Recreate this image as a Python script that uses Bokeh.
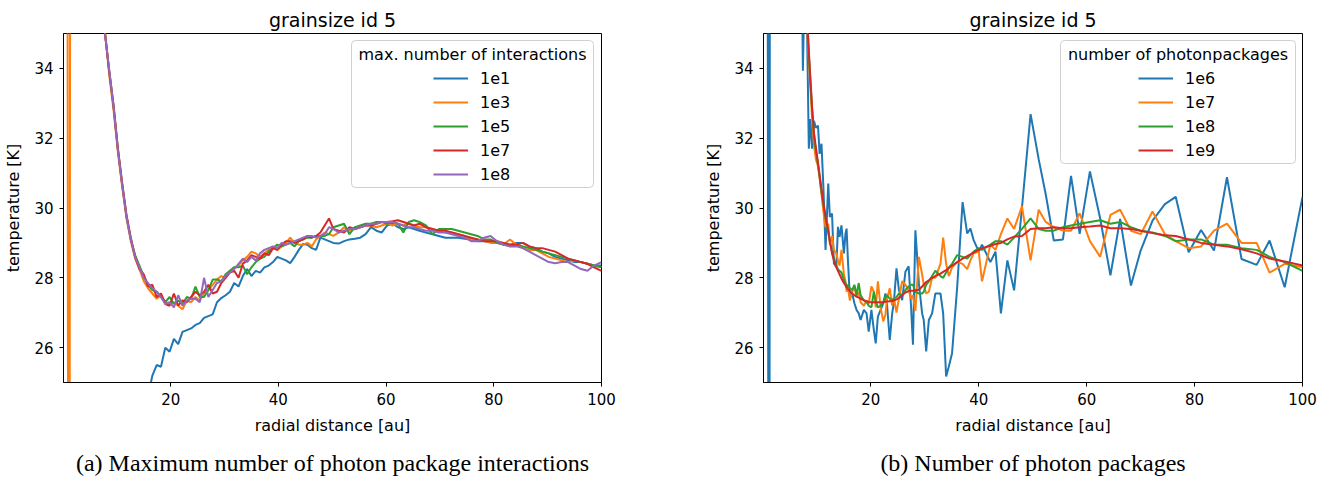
from bokeh.plotting import figure
from bokeh.layouts import row
from bokeh.models import (Legend, LegendItem, BoxAnnotation, Label, Title,
                          FixedTicker, Range1d)
from bokeh.embed import file_html
from bokeh.resources import INLINE

# ---------------- data: panel (a) ----------------
x_left = [
    0.7, 1.1, 1.6, 3.0, 5.0, 7.0, 7.8, 8.6,
    9.4, 10.2, 11.0, 11.8, 12.6, 13.4, 14.2, 15.0,
    15.8, 16.6, 17.4, 18.2, 19.0, 19.8, 20.6, 21.4,
    22.2, 23.0, 23.8, 24.6, 25.4, 26.2, 27.0, 27.8,
    28.6, 29.4, 30.2, 31.0, 31.8, 32.6, 33.4, 34.2,
    35.0, 35.8, 36.6, 37.4, 38.2, 39.0, 39.8, 40.6,
    41.4, 42.2, 43.0, 43.8, 44.6, 45.4, 46.2, 47.0,
    47.8, 48.6, 49.4, 50.2, 51.2, 52.2, 53.2, 54.2,
    55.2, 56.2, 57.2, 58.2, 59.2, 60.2, 61.2, 62.2,
    63.2, 64.2, 65.2, 66.2, 67.4, 68.6, 69.8, 71.0,
    72.2, 73.4, 74.6, 75.8, 77.0, 78.2, 79.4, 80.6,
    81.8, 83.0, 84.2, 85.4, 86.6, 87.8, 89.0, 90.2,
    91.4, 92.6, 93.8, 95.0, 96.2, 97.4, 98.6, 100.0]

T_int_1e1 = [
    5.0, 8.0, 10.0, 13.0, 16.0, 18.5, 19.5, 20.3,
    21.0, 21.6, 22.2, 22.7, 23.1, 23.5, 23.9, 24.3,
    24.6, 25.2, 25.5, 25.45, 26.0, 25.88, 26.25, 26.1,
    26.45, 26.5, 26.55, 26.65, 26.7, 26.85, 26.9, 26.95,
    27.3, 27.42, 27.5, 27.6, 27.85, 27.75, 28.05, 28.25,
    28.05, 28.2, 28.15, 28.3, 28.35, 28.45, 28.6, 28.55,
    28.5, 28.42, 28.6, 28.8, 28.97, 28.95, 28.85, 28.8,
    29.15, 29.1, 29.05, 29.0, 28.98, 29.05, 29.1, 29.12,
    29.15, 29.25, 29.45, 29.35, 29.3, 29.5, 29.55, 29.45,
    29.4, 29.45, 29.4, 29.35, 29.3, 29.25, 29.2, 29.15,
    29.15, 29.15, 29.12, 29.1, 29.05, 29.05, 29.05, 29.0,
    28.95, 28.95, 29.0, 29.0, 28.9, 28.85, 28.75, 28.7,
    28.6, 28.55, 28.5, 28.45, 28.45, 28.4, 28.35, 28.35]

T_int_1e3 = [
    60.0, 0.0, 80.0, 48.0, 42.0, 37.5, 35.1, 33.8,
    32.8, 31.6, 30.6, 29.7, 29.05, 28.55, 28.25, 27.9,
    27.7, 27.55, 27.4, 27.5, 27.3, 27.25, 27.3, 27.2,
    27.1, 27.35, 27.3, 27.45, 27.35, 27.55, 27.65, 27.8,
    27.95, 28.05, 28.0, 28.2, 28.3, 28.35, 28.5, 28.6,
    28.75, 28.7, 28.6, 28.7, 28.8, 28.85, 28.8, 28.9,
    29.0, 29.15, 29.0, 28.95, 28.95, 29.0, 28.9, 29.1,
    29.2, 29.3, 29.25, 29.2, 29.3, 29.45, 29.35, 29.4,
    29.45, 29.5, 29.5, 29.45, 29.5, 29.55, 29.5, 29.55,
    29.5, 29.55, 29.5, 29.45, 29.45, 29.4, 29.35, 29.3,
    29.3, 29.25, 29.2, 29.1, 29.1, 29.05, 29.0, 29.0,
    28.95, 29.1, 28.95, 28.85, 28.8, 28.8, 28.7, 28.6,
    28.55, 28.5, 28.45, 28.5, 28.45, 28.4, 28.35, 28.3]

T_int_1e5 = [
    60.0, 58.0, 55.0, 48.0, 42.0, 37.5, 35.0, 33.9,
    32.9, 31.7, 30.7, 29.75, 29.1, 28.65, 28.35, 28.05,
    27.8, 27.65, 27.6, 27.45, 27.3, 27.45, 27.25, 27.35,
    27.25, 27.45, 27.4, 27.75, 27.45, 27.45, 27.65, 27.95,
    27.95, 27.9, 28.1, 28.2, 28.3, 28.3, 28.35, 28.1,
    28.3, 28.45, 28.55, 28.6, 28.75, 28.85, 28.95, 28.9,
    28.95, 29.0, 28.9, 29.05, 29.1, 29.15, 29.15, 29.2,
    29.2, 29.2, 29.25, 29.45, 29.5, 29.55, 29.25, 29.45,
    29.5, 29.55, 29.55, 29.6, 29.6, 29.55, 29.6, 29.55,
    29.3, 29.6, 29.65, 29.6, 29.5, 29.25, 29.4, 29.4,
    29.4, 29.35, 29.3, 29.25, 29.2, 29.1, 29.1, 29.0,
    28.95, 28.9, 28.95, 28.9, 28.85, 28.8, 28.75, 28.7,
    28.65, 28.6, 28.55, 28.5, 28.45, 28.4, 28.35, 28.3]

T_int_1e7 = [
    60.0, 58.0, 55.0, 48.0, 42.0, 37.5, 35.0, 33.9,
    32.95, 31.7, 30.7, 29.8, 29.15, 28.6, 28.25, 28.1,
    27.75, 27.8, 27.45, 27.55, 27.25, 27.2, 27.55, 27.2,
    27.35, 27.3, 27.45, 27.6, 27.5, 27.6, 27.8, 27.55,
    27.6, 27.85, 28.0, 28.15, 28.2, 28.0, 28.4, 28.5,
    28.65, 28.6, 28.55, 28.7, 28.65, 28.85, 28.8, 28.95,
    29.05, 29.05, 29.0, 29.05, 29.1, 29.2, 29.15, 29.2,
    29.3, 29.5, 29.7, 29.4, 29.35, 29.3, 29.45, 29.4,
    29.45, 29.5, 29.5, 29.55, 29.6, 29.6, 29.62, 29.65,
    29.6, 29.55, 29.5, 29.55, 29.45, 29.4, 29.35, 29.35,
    29.3, 29.25, 29.2, 29.15, 29.1, 29.05, 29.05, 29.05,
    29.0, 28.95, 28.95, 29.0, 28.9, 28.85, 28.85, 28.8,
    28.75, 28.65, 28.55, 28.5, 28.45, 28.4, 28.3, 28.2]

T_int_1e8 = [
    60.0, 58.0, 55.0, 48.0, 42.0, 37.5, 35.0, 33.95,
    32.9, 31.65, 30.65, 29.75, 29.1, 28.6, 28.3, 28.0,
    27.85, 27.7, 27.6, 27.45, 27.25, 27.3, 27.15, 27.5,
    27.2, 27.35, 27.4, 27.4, 27.3, 28.0, 27.45, 27.65,
    27.85, 27.9, 28.05, 28.15, 28.25, 28.4, 28.55, 28.45,
    28.6, 28.5, 28.7, 28.8, 28.85, 28.9, 28.85, 29.0,
    28.95, 29.0, 29.05, 29.1, 29.15, 29.2, 29.2, 29.15,
    29.2, 29.25, 29.45, 29.4, 29.3, 29.35, 29.4, 29.4,
    29.45, 29.5, 29.55, 29.55, 29.6, 29.6, 29.6, 29.55,
    29.5, 29.45, 29.45, 29.4, 29.35, 29.35, 29.3, 29.3,
    29.25, 29.2, 29.15, 29.05, 29.05, 29.15, 29.2, 29.05,
    28.95, 28.9, 28.9, 28.85, 28.75, 28.65, 28.55, 28.45,
    28.42, 28.45, 28.45, 28.35, 28.25, 28.2, 28.35, 28.45]

labels_left = ["1e1", "1e3", "1e5", "1e7", "1e8"]

# ---------------- data: panel (b) ----------------
x_right = [
    0.6, 1.15, 1.4, 3.0, 5.0, 7.0, 7.4, 7.9,
    8.5, 8.8, 9.1, 9.45, 9.8, 10.2, 10.5, 10.85,
    11.2, 11.6, 12.1, 12.4, 12.8, 13.15, 13.6, 13.9,
    14.2, 14.55, 15.0, 15.3, 15.5, 15.75, 16.1, 16.55,
    16.95, 17.35, 17.75, 18.1, 18.7, 19.2, 19.6, 20.1,
    20.55, 20.9, 21.3, 21.8, 22.3, 22.7, 23.0, 23.5,
    23.95, 24.25, 24.75, 25.2, 25.8, 26.4, 27.0, 27.45,
    27.8, 28.25, 28.9, 29.5, 29.8, 30.25, 30.75, 31.35,
    31.95, 32.9, 33.4, 33.95, 34.45, 35.05, 36.0, 37.0,
    37.85, 38.45, 39.05, 40.0, 40.6, 42.15, 43.1, 44.1,
    45.3, 46.55, 48.0, 49.6, 51.1, 52.4, 53.9, 55.6,
    57.1, 58.7, 60.6, 62.5, 64.4, 66.2, 68.2, 70.0,
    72.2, 74.5, 76.5, 78.9, 81.2, 83.6, 86.0, 88.7,
    91.5, 93.9, 96.7, 100.0]

T_pkg_1e6 = [
    70.0, 5.0, 70.0, 60.0, 50.0, 40.0, 33.93, 38.0,
    31.7, 32.55, 31.7, 32.5, 32.3, 32.36, 31.55, 31.84,
    30.6, 28.8, 30.7, 29.74, 29.84, 28.41, 28.31, 29.46,
    29.17, 29.5, 28.7, 29.27, 29.41, 28.5, 27.46, 27.55,
    27.27, 27.08, 26.98, 26.79, 27.08, 26.98, 26.46, 27.08,
    26.51, 26.12, 26.89, 27.08, 27.27, 27.55, 27.22, 26.22,
    26.98, 27.27, 28.27, 27.65, 27.36, 28.17, 28.33, 27.17,
    26.08, 29.36, 27.84, 26.98, 26.79, 25.89, 26.79, 26.98,
    27.55, 27.55, 26.98, 25.17, 25.46, 25.84, 27.74, 30.17,
    29.27, 29.41, 29.08, 28.75, 28.95, 28.45, 28.75, 26.98,
    28.5, 27.64, 30.0, 32.69, 31.4, 30.4, 29.07, 29.1,
    30.92, 29.26, 31.05, 29.7, 28.07, 29.69, 27.78, 28.78,
    29.64, 30.11, 30.32, 28.73, 29.37, 28.78, 30.88, 28.54,
    28.37, 29.07, 27.73, 30.32]

T_pkg_1e7 = [
    60.0, 58.0, 55.0, 50.0, 45.0, 40.0, 38.0, 35.8,
    34.3, 33.4, 32.6, 31.8, 31.4, 31.2, 30.85, 30.4,
    29.9, 29.45, 29.55, 28.95, 29.2, 28.8, 28.7, 28.5,
    28.35, 28.8, 28.1, 27.9, 27.6, 27.75, 27.35, 27.6,
    27.75, 27.45, 27.6, 27.3, 27.2, 27.35, 27.25, 27.75,
    27.6, 27.15, 27.9, 27.15, 26.75, 26.95, 27.4, 27.7,
    27.2, 27.45, 27.0, 27.4, 27.9, 27.8, 27.65, 27.4,
    27.5, 27.05, 28.6, 28.1, 27.8, 27.55, 27.6, 28.0,
    28.0, 28.4, 29.15, 28.4, 28.05, 28.3, 28.45, 28.4,
    28.25, 28.5, 28.7, 28.75, 27.9, 28.95, 28.8, 29.25,
    29.7, 29.4, 30.05, 28.5, 29.95, 29.6, 29.45, 29.35,
    29.35, 29.85, 29.05, 28.6, 29.8, 29.95, 29.35, 29.25,
    29.9, 29.25, 29.05, 28.85, 28.9, 29.35, 29.55, 29.0,
    29.0, 28.15, 28.4, 28.3]

T_pkg_1e8 = [
    60.0, 58.0, 55.0, 50.0, 45.0, 40.0, 38.4, 36.3,
    34.4, 33.6, 32.85, 32.1, 31.65, 31.25, 30.9, 30.45,
    30.1, 29.7, 29.3, 29.05, 28.75, 28.55, 28.35, 28.25,
    28.2, 28.15, 27.95, 27.85, 27.75, 27.8, 27.7, 27.65,
    27.8, 27.5, 27.85, 27.5, 27.35, 27.3, 27.2, 27.15,
    27.6, 27.35, 27.15, 27.2, 27.3, 27.45, 27.5, 27.4,
    27.35, 27.4, 27.45, 27.55, 27.5, 27.65, 27.75, 27.8,
    27.8, 27.6, 27.55, 27.55, 27.6, 27.8, 27.9, 28.05,
    28.2, 28.05, 28.0, 28.15, 28.3, 28.4, 28.65, 28.6,
    28.55, 28.65, 28.75, 28.85, 28.8, 28.95, 29.05, 29.05,
    28.95, 29.15, 29.4, 29.7, 29.4, 29.35, 29.35, 29.45,
    29.5, 29.55, 29.6, 29.65, 29.55, 29.6, 29.45, 29.35,
    29.3, 29.2, 29.05, 29.1, 29.1, 28.95, 28.95, 28.85,
    28.8, 28.6, 28.45, 28.2]

T_pkg_1e9 = [
    60.0, 58.0, 55.0, 50.0, 45.0, 40.0, 38.5, 36.5,
    34.5, 33.7, 32.9, 32.15, 31.75, 31.3, 30.95, 30.55,
    30.15, 29.75, 29.35, 29.05, 28.7, 28.5, 28.3, 28.2,
    28.1, 27.98, 27.85, 27.78, 27.73, 27.68, 27.62, 27.55,
    27.5, 27.46, 27.43, 27.4, 27.36, 27.33, 27.31, 27.3,
    27.3, 27.3, 27.3, 27.3, 27.3, 27.32, 27.32, 27.33,
    27.33, 27.35, 27.38, 27.42, 27.5, 27.58, 27.62, 27.63,
    27.63, 27.64, 27.66, 27.75, 27.8, 27.88, 27.93, 28.0,
    28.05, 28.12, 28.17, 28.22, 28.28, 28.35, 28.45, 28.55,
    28.62, 28.67, 28.72, 28.8, 28.85, 28.92, 28.97, 29.0,
    29.1, 29.18, 29.2, 29.4, 29.42, 29.42, 29.45, 29.42,
    29.42, 29.45, 29.47, 29.5, 29.42, 29.42, 29.4, 29.35,
    29.28, 29.22, 29.2, 29.1, 29.0, 28.95, 28.9, 28.82,
    28.7, 28.55, 28.47, 28.35]

labels_right = ["1e6", "1e7", "1e8", "1e9"]

x_ticks = [20, 40, 60, 80, 100]
y_ticks = [26, 28, 30, 32, 34]
colors = ["#1f77b4", "#ff7f0e", "#2ca02c", "#d62728", "#9467bd"]

FONT = "DejaVu Sans"
X0, X1 = 0.1, 100.0
Y0, Y1 = 25.0, 35.0
FRAME_TOP, FRAME_H = 33, 349


def make_panel(width, border_left, border_right, frame_left, frame_w,
               xs, series, labels, legend_title, box_px, legend_loc, caption):
    p = figure(width=width, height=488, output_backend="svg", toolbar_location=None,
               x_range=Range1d(X0, X1), y_range=Range1d(Y0, Y1),
               min_border_left=border_left, min_border_right=border_right,
               min_border_top=FRAME_TOP, min_border_bottom=488 - FRAME_TOP - FRAME_H)
    p.title.text = "grainsize id 5"
    p.title.align = "center"
    p.title.text_font = FONT
    p.title.text_font_size = "19px"
    p.title.text_font_style = "normal"
    p.title.text_color = "black"
    p.title.standoff = 5

    p.xgrid.visible = False
    p.ygrid.visible = False
    p.outline_line_color = "black"
    p.outline_line_alpha = 1.0
    p.outline_line_width = 1
    p.background_fill_color = "white"
    p.border_fill_color = "white"

    for ax, ticks in ((p.xaxis[0], x_ticks), (p.yaxis[0], y_ticks)):
        ax.ticker = FixedTicker(ticks=ticks)
        ax.minor_tick_line_color = None
        ax.major_tick_in = 0
        ax.major_tick_out = 4
        ax.major_tick_line_color = "black"
        ax.axis_line_color = "black"
        ax.major_label_text_font = FONT
        ax.major_label_text_font_size = "15px"
        ax.major_label_text_color = "black"
        ax.major_label_standoff = 6
        ax.axis_label_text_font = FONT
        ax.axis_label_text_font_size = "16px"
        ax.axis_label_text_font_style = "normal"
        ax.axis_label_text_color = "black"
        ax.axis_label_standoff = 8
    p.xaxis.axis_label = "radial distance [au]"
    p.yaxis.axis_label = "temperature [K]"

    renderers = []
    for ys, c in zip(series, colors):
        r = p.line(xs, ys, line_color=c, line_width=2)
        renderers.append(r)

    def px2x(px):
        return X0 + (px - frame_left) / frame_w * (X1 - X0)

    def px2y(py):
        return Y1 - (py - FRAME_TOP) / FRAME_H * (Y1 - Y0)

    l, t, r_, b = box_px
    box = BoxAnnotation(left=px2x(l), right=px2x(r_), top=px2y(t), bottom=px2y(b),
                        fill_color="white", fill_alpha=0.8,
                        line_color="#d0d0d0", line_width=1, line_alpha=1.0,
                        border_radius=4)
    p.add_layout(box)

    legend = Legend(items=[LegendItem(label=lab, renderers=[rr])
                           for lab, rr in zip(labels, renderers)],
                    location=legend_loc, orientation="vertical",
                    border_line_alpha=0, background_fill_alpha=0,
                    padding=0, margin=0, spacing=4,
                    glyph_width=35, glyph_height=20, label_height=20,
                    label_standoff=12,
                    label_text_font=FONT, label_text_font_size="16px",
                    label_text_color="black")
    p.add_layout(legend)

    title_lbl = Label(x=px2x((l + r_) / 2), y=px2y(t + 14), text=legend_title,
                      text_align="center", text_baseline="middle",
                      text_font=FONT, text_font_size="16px", text_color="black")
    p.add_layout(title_lbl)

    cap = Title(text=caption, align="center", text_font="Liberation Serif",
                text_font_size="24px", text_font_style="normal", text_color="black",
                standoff=20)
    p.add_layout(cap, "below")
    return p


p1 = make_panel(666, 63, 65, 63, 538, x_left,
                [T_int_1e1, T_int_1e3, T_int_1e5, T_int_1e7, T_int_1e8],
                labels_left, "max. number of interactions",
                (351, 40, 593, 187), (370, 198),
                "(a) Maximum number of photon package interactions")
p2 = make_panel(667, 97, 31, 763, 539, x_right,
                [T_pkg_1e6, T_pkg_1e7, T_pkg_1e8, T_pkg_1e9],
                labels_right, "number of photonpackages",
                (1060, 40, 1295, 163), (375, 222),
                "(b) Number of photon packages")

layout = row(p1, p2)
open("out.html", "w").write(file_html(layout, INLINE))
